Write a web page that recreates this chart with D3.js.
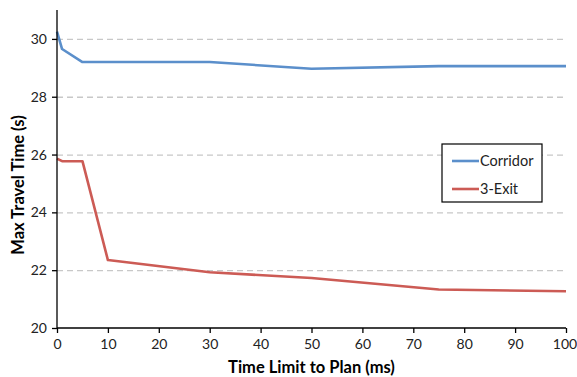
<!DOCTYPE html>
<meta charset="utf-8">
<script src="https://d3js.org/d3.v7.min.js"></script>
<style>
  body { margin: 0; background: #fff; font-family: Lato, "Open Sans", sans-serif; }
  .tick text { font-size: 14px; fill: #222; font-family: Lato, sans-serif; }
  .axis path, .axis line { stroke: #000; stroke-width: 1.3; }
  .grid line { stroke: #c8c8c8; stroke-dasharray: 6,4; stroke-width: 1.3; }
  .grid path { display: none; }
</style>
<body>
<div id="viz"></div>
<script>
// data
const timeLimits = [0, 1, 5, 10, 30, 50, 75, 100];
const corridor   = [30.25, 29.65, 29.2, 29.2, 29.2, 28.97, 29.06, 29.06];
const threeExit  = [25.86, 25.77, 25.77, 22.35, 21.93, 21.73, 21.33, 21.27];
const seriesNames = ["Corridor", "3-Exit"];
const xTicks = [0, 10, 20, 30, 40, 50, 60, 70, 80, 90, 100];
const yTicks = [20, 22, 24, 26, 28, 30];

const margin = {top: 10, right: 11, bottom: 49, left: 57},
  width = 577 - margin.left - margin.right,
  height = 377 - margin.top - margin.bottom;

const svg = d3.select("#viz")
  .append("svg")
    .attr("width", 577)
    .attr("height", 377)
  .append("g")
    .attr("transform", `translate(${margin.left},${margin.top})`);

const x = d3.scaleLinear().domain([0, 100]).range([0, width]);
const y = d3.scaleLinear().domain([20, 31]).range([height, 0]);

// gridlines
svg.append("g")
  .attr("class", "grid")
  .call(d3.axisLeft(y).tickValues(yTicks.slice(1)).tickSize(-width).tickFormat(""));

const colors = ["#5b8fcb", "#cc5b55"];
const series = [corridor, threeExit];

const line = d3.line()
  .x((d, i) => x(timeLimits[i]))
  .y(d => y(d));

series.forEach((s, k) => {
  svg.append("path")
    .datum(s)
    .attr("fill", "none")
    .attr("stroke", colors[k])
    .attr("stroke-width", 2.6)
    .attr("stroke-linejoin", "round")
    .attr("d", line);
});

// axes
const xAxis = svg.append("g")
  .attr("class", "axis")
  .attr("transform", `translate(0,${height})`)
  .call(d3.axisBottom(x).tickValues(xTicks).tickSize(5).tickPadding(6).tickSizeOuter(0));
xAxis.select(".domain").attr("d", `M0,0H${width}`);
// keep the last label inside the page
xAxis.selectAll(".tick text").filter(d => d === 100).attr("dx", -1.5);

svg.append("g")
  .attr("class", "axis")
  .call(d3.axisLeft(y).tickValues(yTicks).tickSize(5).tickPadding(5).tickSizeOuter(0))
  .select(".domain").attr("d", `M0,0V${height}`);

// axis titles
svg.append("text")
  .attr("x", width / 2)
  .attr("y", height + 45)
  .attr("text-anchor", "middle")
  .style("font-size", "16.5px")
  .style("font-weight", "bold")
  .text("Time Limit to Plan (ms)");

svg.append("text")
  .attr("transform", "rotate(-90)")
  .attr("x", -175)
  .attr("y", -33)
  .attr("text-anchor", "middle")
  .style("font-size", "16.5px")
  .style("font-weight", "bold")
  .text("Max Travel Time (s)");

// legend
const legend = svg.append("g")
  .attr("transform", `translate(${442 - margin.left},${144 - margin.top})`);
legend.append("rect")
  .attr("width", 100).attr("height", 58)
  .attr("fill", "#fff").attr("stroke", "#000").attr("stroke-width", 1.2);
seriesNames.forEach((n, k) => {
  const yy = 17 + k * 28;
  legend.append("line")
    .attr("x1", 10).attr("x2", 37).attr("y1", yy).attr("y2", yy)
    .attr("stroke", colors[k]).attr("stroke-width", 2.6);
  legend.append("text")
    .attr("x", 38).attr("y", yy + 5)
    .style("font-size", "14.5px").style("fill", "#222")
    .text(n);
});
</script>
</body>
